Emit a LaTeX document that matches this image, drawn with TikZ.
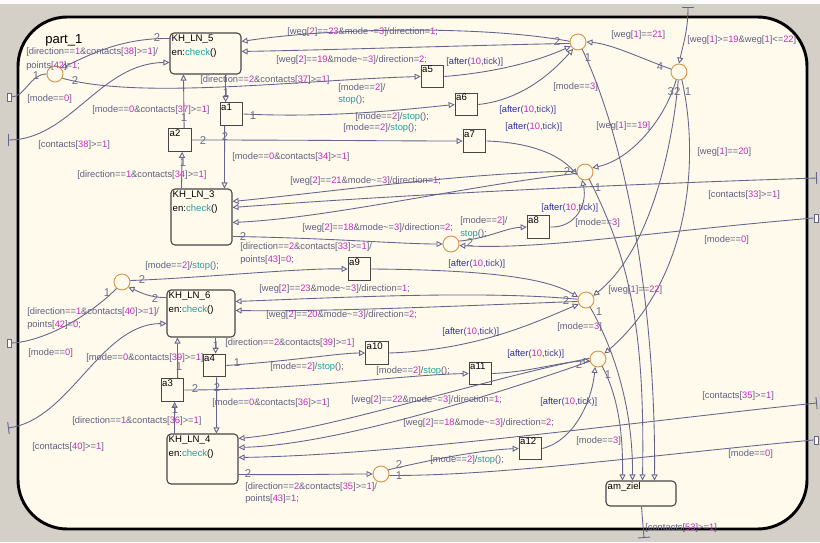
\documentclass[tikz,border=0pt]{standalone}
\usepackage{fontspec}
\setmainfont{Liberation Sans}
\usetikzlibrary{arrows.meta,calc}

\definecolor{bggray}{RGB}{212,208,200}
\definecolor{cream}{RGB}{255,250,235}
\definecolor{linecol}{RGB}{100,100,142}
\definecolor{lblcol}{RGB}{95,95,130}
\definecolor{numcol}{RGB}{200,40,200}
\definecolor{kwcol}{RGB}{40,40,170}
\definecolor{aftcol}{RGB}{70,70,150}
\definecolor{fncol}{RGB}{30,160,160}
\definecolor{juncol}{RGB}{215,150,70}
\definecolor{stcol}{RGB}{70,70,70}
\definecolor{ordcol}{RGB}{110,110,140}

\newcommand\lblfont{\fontsize{7}{8}\selectfont}
\newcommand\nm[1]{\textcolor{numcol}{#1}}
\newcommand\fn[1]{\textcolor{fncol}{#1}}
\newcommand\kwa{\textcolor{kwcol}{after}}
\newcommand\tld{\textasciitilde}
\newcommand\aft{[\kwa(\nm{10},tick)]}
\newcommand\stp{[mode==\nm{2}]/\fn{stop}();}

\tikzset{
  lbl/.style={font=\lblfont, text=lblcol, inner sep=0pt, anchor=west},
  aftlbl/.style={lbl, text=aftcol},
  ord/.style={font=\fontsize{8.5}{8.5}\selectfont, text=ordcol, inner sep=0pt},
  state/.style={rectangle, rounded corners=3pt, draw=stcol, line width=0.8pt, fill=cream, inner sep=0pt},
  sttext/.style={anchor=north west, align=left, font=\fontsize{7.2}{10.5}\selectfont, inner sep=1.5pt, text=black},
  sbox/.style={rectangle, draw=stcol, line width=0.8pt, fill=cream, minimum size=17pt, inner sep=0pt},
  bxtext/.style={anchor=north west, font=\fontsize{7.2}{8}\selectfont, inner sep=1pt, text=black},
  junc/.style={circle, draw=juncol, line width=0.7pt, fill=cream, minimum size=12pt, inner sep=0pt},
  port/.style={rectangle, draw=linecol, line width=0.6pt, fill=cream, minimum width=3pt, minimum height=6pt, inner sep=0pt},
  tr/.style={draw=linecol, line width=0.65pt, -{Triangle[open,length=4.5pt,width=4.5pt]}},
  trn/.style={draw=linecol, line width=0.65pt},
  bartr/.style={draw=linecol, line width=0.65pt, {Bar[width=9pt,line width=0.7pt]}-{Triangle[open,length=4.5pt,width=4.5pt]}},
  trbar/.style={draw=linecol, line width=0.65pt, -{Bar[width=9pt,line width=0.7pt]}},
}

\begin{document}
\begin{tikzpicture}[x=0.75pt,y=-0.75pt]
\useasboundingbox (0,0) rectangle (820,542);
% window background and chart frame
\fill[bggray] (0,0) rectangle (820,542);
\fill[white!92!bggray] (0,0) rectangle (820,4);
\draw[line width=2.2pt, fill=cream, rounded corners=37pt] (18,17) rectangle (807,529);
\node[anchor=west, inner sep=0pt, font=\fontsize{9.8}{10}\selectfont] (title) at (45,40) {part\_1};

% states
\node[state, minimum width=53.25pt, minimum height=30.75pt, label={[sttext]north west:{KH\_LN\_5\\en:\fn{check}()}}] (k5) at (205.5,53.5) {};
\node[state, minimum width=45.75pt, minimum height=42pt, label={[sttext]north west:{KH\_LN\_3\\en:\fn{check}()}}] (k3) at (201.5,217) {};
\node[state, minimum width=51pt, minimum height=35.25pt, label={[sttext]north west:{KH\_LN\_6\\en:\fn{check}()}}] (k6) at (201,313.5) {};
\node[state, minimum width=53.25pt, minimum height=37.5pt, label={[sttext]north west:{KH\_LN\_4\\en:\fn{check}()}}] (k4) at (202.5,459) {};
\node[state, minimum width=52.5pt, minimum height=18.75pt, label={[sttext]north west:{am\_ziel}}] (am) at (641,493.5) {};

% small boxes
\node[sbox, label={[bxtext]north west:a1}] (a1) at (231.5,114) {};
\node[sbox, label={[bxtext]north west:a2}] (a2) at (180,140) {};
\node[sbox, label={[bxtext]north west:a5}] (a5) at (432.5,76.5) {};
\node[sbox, label={[bxtext]north west:a6}] (a6) at (466.5,104.5) {};
\node[sbox, label={[bxtext]north west:a7}] (a7) at (474.5,141) {};
\node[sbox, label={[bxtext]north west:a8}] (a8) at (538.5,227) {};
\node[sbox, label={[bxtext]north west:a9}] (a9) at (359.5,269) {};
\node[sbox, label={[bxtext]north west:a10}] (a10) at (377,353) {};
\node[sbox, label={[bxtext]north west:a4}] (a4) at (214.5,365.5) {};
\node[sbox, label={[bxtext]north west:a3}] (a3) at (172.5,390) {};
\node[sbox, label={[bxtext]north west:a11}] (a11) at (480.5,373.5) {};
\node[sbox, label={[bxtext]north west:a12}] (a12) at (530.5,448.5) {};

% junctions
\node[junc] (j1) at (55,74) {};
\node[junc] (jt1) at (578,42) {};
\node[junc] (jt2) at (679,72) {};
\node[junc] (jm1) at (585,172) {};
\node[junc] (j3) at (451,244) {};
\node[junc] (j6) at (122,282) {};
\node[junc] (jm2) at (586,300) {};
\node[junc] (jm3) at (598,359) {};
\node[junc] (jb) at (381,474) {};

% ports
\node[port] (pL1) at (9,97) {};
\node[port] (pL2) at (9,343) {};
\node[port] (pR1) at (816,218) {};
\node[port] (pR2) at (816,440) {};
\coordinate (tL1) at (8,140);
\coordinate (tL2) at (8,428);
\coordinate (tR1) at (817,178);
\coordinate (tR2) at (817,403);
\coordinate (tT) at (688,7);
\coordinate (tB) at (644,538);

% ---- transitions around KH_LN_5
\draw[tr] ($(k5.north west)+(0,6)$) .. controls (120,38) and (90,55) .. (j1.45);
\draw[trn] (j1.west) .. controls (30,74) and (25,97) .. (pL1.east);
\draw[tr] (j1.-30) .. controls (140,100) and (300,80) .. (a5.west);
\draw[bartr] (tL1) .. controls (70,140) and (100,63) .. ($(k5.north west)+(0,30)$);
\draw[tr] ($(k5.south west)+(56,0)$) -- ($(a1.north west)+(6,0)$);
\draw[tr] ($(a2.north west)+(16,0)$) -- ($(k5.south west)+(14,0)$);
\draw[tr] (a1.east) .. controls (330,118) and (400,110) .. (a6.west);
\draw[tr] (a2.east) .. controls (300,140) and (400,141) .. (a7.west);
\draw[tr] ($(a1.south west)+(5,0)$) -- ($(k3.north west)+(54,0)$);
\draw[tr] ($(k3.north west)+(11,0)$) -- ($(a2.south west)+(14,0)$);

% ---- upper right junctions
\draw[tr] (jt1.175) .. controls (480,25) and (330,28) .. ($(k5.north east)+(0,9)$);
\draw[tr] (jt1.190) .. controls (480,45) and (330,50) .. ($(k5.north east)+(0,19)$);
\draw[tr] (a5.east) .. controls (500,72) and (540,60) .. (jt1.210);
\draw[tr] (a6.east) .. controls (520,100) and (550,75) .. (jt1.235);
\draw[tr] (jt1.-60) .. controls (630,150) and (656,320) .. ($(am.north west)+(49,0)$);
\draw[bartr] (tT) .. controls (688,30) and (683,45) .. (jt2.north);
\draw[tr] (jt2.160) .. controls (640,58) and (612,44) .. (jt1.east);
\draw[tr] (jt2.250) .. controls (665,120) and (630,160) .. (jm1.30);
\draw[tr] (jt2.265) .. controls (672,150) and (650,250) .. (jm2.30);
\draw[tr] (jt2.290) .. controls (700,160) and (690,280) .. (jm3.40);

% ---- junction near KH_LN_3
\draw[tr] (a7.east) .. controls (520,142) and (555,150) .. (jm1.200);
\draw[tr] (a8.east) .. controls (575,228) and (588,205) .. (jm1.250);
\draw[tr] (jm1.175) .. controls (470,172) and (330,192) .. ($(k3.north east)+(0,13)$);
\draw[tr] (jm1.190) .. controls (470,185) and (330,218) .. ($(k3.north east)+(0,34)$);
\draw[bartr] (tR1) .. controls (600,185) and (400,195) .. ($(k3.north east)+(0,19)$);
\draw[tr] (jm1.-60) .. controls (630,260) and (645,330) .. ($(am.north west)+(37,0)$);
\draw[tr] ($(k3.north east)+(0,48)$) .. controls (330,238) and (400,244) .. (j3.west);
\draw[tr] (j3.20) .. controls (490,238) and (505,228) .. (a8.west);
\draw[tr] (pR1.west) .. controls (650,232) and (540,250) .. (j3.-10);

% ---- transitions around KH_LN_6
\draw[tr] ($(k6.north west)+(0,8)$) .. controls (150,298) and (140,292) .. (j6.-40);
\draw[tr] (j6.10) .. controls (200,278) and (300,268) .. (a9.west);
\draw[trn] (j6.230) .. controls (85,320) and (40,342) .. (pL2.east);
\draw[bartr] (tL2) .. controls (70,420) and (100,324) .. ($(k6.north west)+(0,34)$);
\draw[tr] (jm2.175) .. controls (480,290) and (330,298) .. ($(k6.north east)+(0,12)$);
\draw[tr] (jm2.190) .. controls (480,305) and (330,312) .. ($(k6.north east)+(0,21)$);
\draw[tr] (a9.east) .. controls (500,270) and (550,280) .. (jm2.160);
\draw[tr] (a10.east) .. controls (480,350) and (540,320) .. (jm2.210);
\draw[tr] (jm2.-60) .. controls (620,360) and (633,420) .. ($(am.north west)+(27,0)$);
\draw[tr] ($(k6.south west)+(49,0)$) -- ($(a4.north west)+(13,0)$);
\draw[tr] ($(a3.north west)+(17,0)$) -- ($(k6.south west)+(11,0)$);
\draw[tr] (a4.east) .. controls (300,360) and (340,353) .. (a10.west);
\draw[tr] (a3.east) .. controls (300,390) and (400,375) .. (a11.west);
\draw[tr] ($(a4.south west)+(14,0)$) -- ($(k4.north west)+(50,0)$);
\draw[tr] ($(k4.north west)+(8,0)$) -- ($(a3.south west)+(14,0)$);

% ---- junction near KH_LN_4
\draw[tr] (a11.east) .. controls (530,372) and (560,362) .. (jm3.190);
\draw[tr] (a12.east) .. controls (575,440) and (592,400) .. (jm3.250);
\draw[tr] (jm3.175) .. controls (480,380) and (330,430) .. ($(k4.north east)+(0,5)$);
\draw[tr] (jm3.195) .. controls (480,400) and (330,445) .. ($(k4.north east)+(0,14)$);
\draw[bartr] (tR2) .. controls (650,420) and (400,455) .. ($(k4.north east)+(0,24)$);
\draw[tr] (jm3.-60) .. controls (620,400) and (623,440) .. ($(am.north west)+(17,0)$);
\draw[tr] ($(k4.north east)+(0,41)$) .. controls (300,475) and (340,474) .. (jb.west);
\draw[tr] (jb.30) .. controls (430,460) and (480,450) .. (a12.west);
\draw[trn] (jb.-10) .. controls (500,476) and (650,455) .. (pR2.west);
\draw[trbar] ($(am.south west)+(36,0)$) -- (tB);

% ---- execution order numbers
\node[ord] (o1) at (157,38) {2};
\node[ord] (o2) at (36,76) {1};
\node[ord] (o3) at (75,81) {2};
\node[ord] (o4) at (226,93) {1};
\node[ord] (o5) at (184,118) {1};
\node[ord] (o6) at (253,116) {1};
\node[ord] (o7) at (225,137) {2};
\node[ord] (o8) at (203,141) {2};
\node[ord] (o9) at (183,163) {1};
\node[ord] (o10) at (557,42) {2};
\node[ord] (o11) at (588,58) {1};
\node[ord] (o12) at (660,67) {4};
\node[ord] (o13) at (674,92) {32};
\node[ord] (o14) at (688,92) {1};
\node[ord] (o15) at (567,172) {2};
\node[ord] (o16) at (598,188) {1};
\node[ord] (o17) at (243,237) {2};
\node[ord] (o18) at (470,243) {2};
\node[ord] (o19) at (142,280) {2};
\node[ord] (o20) at (107,293) {1};
\node[ord] (o21) at (155,299) {2};
\node[ord] (o22) at (566,301) {2};
\node[ord] (o23) at (599,312) {1};
\node[ord] (o24) at (216,346) {1};
\node[ord] (o25) at (179,367) {1};
\node[ord] (o26) at (237,363) {1};
\node[ord] (o27) at (217,388) {2};
\node[ord] (o28) at (195,389) {2};
\node[ord] (o29) at (175,410) {1};
\node[ord] (o30) at (579,365) {2};
\node[ord] (o31) at (608,375) {1};
\node[ord] (o32) at (248,474) {2};
\node[ord] (o33) at (399,465) {2};
\node[ord] (o34) at (399,476) {1};

% ---- transition labels
\node[lbl] (l1) at (26,52) {[direction==\nm{1}\&contacts[\nm{38}]>=\nm{1}]/};
\node[lbl] (l2) at (26,66) {points[\nm{42}]=\nm{1};};
\node[lbl] (l3) at (27,99) {[mode==\nm{0}]};
\node[lbl] (l4) at (38,145) {[contacts[\nm{38}]>=\nm{1}]};
\node[lbl] (l5) at (92,110) {[mode==\nm{0}\&contacts[\nm{37}]>=\nm{1}]};
\node[lbl] (l6) at (77,175) {[direction==\nm{1}\&contacts[\nm{34}]>=\nm{1}]};
\node[lbl] (l7) at (200,80) {[direction==\nm{2}\&contacts[\nm{37}]>=\nm{1}]};
\node[lbl] (l8) at (338,88) {[mode==\nm{2}]/};
\node[lbl] (l9) at (338,100) {\fn{stop}();};
\node[lbl] (l10) at (287,32) {[weg[\nm{2}]==\nm{23}\&mode\tld=\nm{3}]/direction=\nm{1};};
\node[lbl] (l11) at (276,60) {[weg[\nm{2}]==\nm{19}\&mode\tld=\nm{3}]/direction=\nm{2};};
\node[aftlbl] (l12) at (446,62) {\aft};
\node[lbl] (l13) at (355,117) {\stp};
\node[aftlbl] (l14) at (499,110) {\aft};
\node[lbl] (l15) at (343,128) {\stp};
\node[aftlbl] (l16) at (505,127) {\aft};
\node[lbl] (l17) at (232,157) {[mode==\nm{0}\&contacts[\nm{34}]>=\nm{1}]};
\node[lbl] (l18) at (553,87) {[mode==\nm{3}]};
\node[lbl] (l19) at (611,35) {[weg[\nm{1}]==\nm{21}]};
\node[lbl] (l20) at (687,40) {[weg[\nm{1}]>=\nm{19}\&weg[\nm{1}]<=\nm{22}]};
\node[lbl] (l21) at (596,126) {[weg[\nm{1}]==\nm{19}]};
\node[lbl] (l22) at (697,152) {[weg[\nm{1}]==\nm{20}]};
\node[lbl] (l23) at (290,181) {[weg[\nm{2}]==\nm{21}\&mode\tld=\nm{3}]/direction=\nm{1};};
\node[aftlbl] (l24) at (541,208) {\aft};
\node[lbl] (l25) at (708,195) {[contacts[\nm{33}]>=\nm{1}]};
\node[lbl] (l26) at (575,223) {[mode==\nm{3}]};
\node[lbl] (l27) at (302,228) {[weg[\nm{2}]==\nm{18}\&mode\tld=\nm{3}]/direction=\nm{2};};
\node[lbl] (l28) at (460,221) {[mode==\nm{2}]/};
\node[lbl] (l29) at (460,234) {\fn{stop}();};
\node[lbl] (l30) at (704,240) {[mode==\nm{0}]};
\node[lbl] (l31) at (240,247) {[direction==\nm{2}\&contacts[\nm{33}]>=\nm{1}]/};
\node[lbl] (l32) at (240,260) {points[\nm{43}]=\nm{0};};
\node[lbl] (l33) at (145,266) {\stp};
\node[aftlbl] (l34) at (448,264) {\aft};
\node[lbl] (l35) at (259,289) {[weg[\nm{2}]==\nm{23}\&mode\tld=\nm{3}]/direction=\nm{1};};
\node[lbl] (l36) at (608,290) {[weg[\nm{1}]==\nm{22}]};
\node[lbl] (l37) at (27,312) {[direction==\nm{1}\&contacts[\nm{40}]>=\nm{1}]/};
\node[lbl] (l38) at (27,325) {points[\nm{42}]=\nm{0};};
\node[lbl] (l39) at (266,315) {[weg[\nm{2}]==\nm{20}\&mode\tld=\nm{3}]/direction=\nm{2};};
\node[lbl] (l40) at (557,327) {[mode==\nm{3}]};
\node[aftlbl] (l41) at (442,332) {\aft};
\node[lbl] (l42) at (225,343) {[direction==\nm{2}\&contacts[\nm{39}]>=\nm{1}]};
\node[lbl] (l43) at (28,353) {[mode==\nm{0}]};
\node[lbl] (l44) at (86,358) {[mode==\nm{0}\&contacts[\nm{39}]>=\nm{1}]};
\node[aftlbl] (l45) at (507,354) {\aft};
\node[lbl] (l46) at (270,367) {\stp};
\node[lbl] (l47) at (376,371) {\stp};
\node[lbl] (l48) at (212,403) {[mode==\nm{0}\&contacts[\nm{36}]>=\nm{1}]};
\node[lbl] (l49) at (351,400) {[weg[\nm{2}]==\nm{22}\&mode\tld=\nm{3}]/direction=\nm{1};};
\node[aftlbl] (l50) at (540,402) {\aft};
\node[lbl] (l51) at (702,396) {[contacts[\nm{35}]>=\nm{1}]};
\node[lbl] (l52) at (72,421) {[direction==\nm{1}\&contacts[\nm{36}]>=\nm{1}]};
\node[lbl] (l53) at (403,423) {[weg[\nm{2}]==\nm{18}\&mode\tld=\nm{3}]/direction=\nm{2};};
\node[lbl] (l54) at (576,441) {[mode==\nm{3}]};
\node[lbl] (l55) at (32,447) {[contacts[\nm{40}]>=\nm{1}]};
\node[lbl] (l56) at (728,454) {[mode==\nm{0}]};
\node[lbl] (l57) at (430,460) {\stp};
\node[lbl] (l58) at (245,487) {[direction==\nm{2}\&contacts[\nm{35}]>=\nm{1}]/};
\node[lbl] (l59) at (245,499) {points[\nm{43}]=\nm{1};};
\node[lbl] (l60) at (645,528) {[contacts[\nm{53}]>=\nm{1}]};
\end{tikzpicture}
\end{document}
